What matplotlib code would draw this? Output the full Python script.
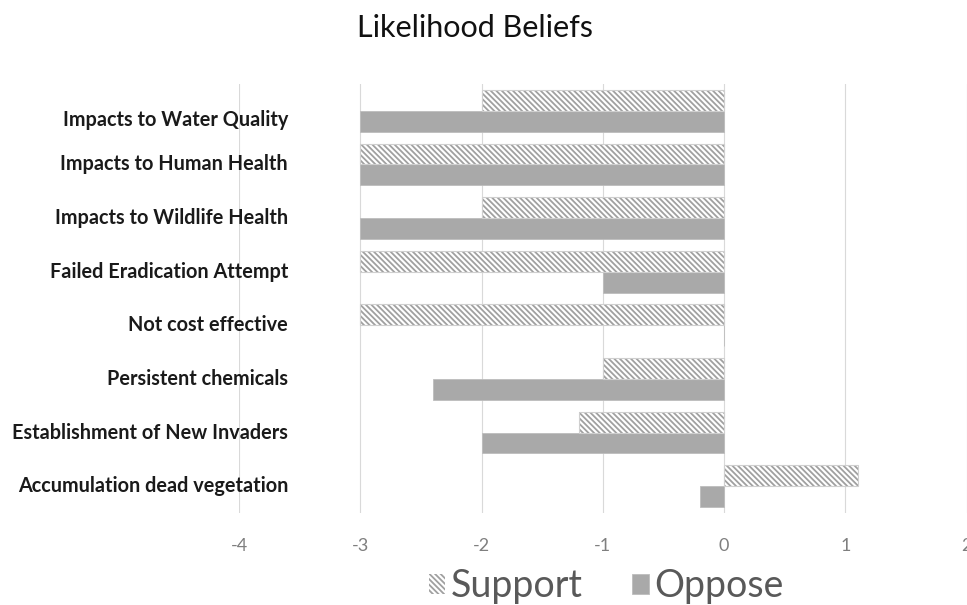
import numpy as np
import matplotlib.pyplot as plt
from matplotlib.transforms import blended_transform_factory

plt.rcParams['font.family'] = ['Lato', 'DejaVu Sans']
plt.rcParams['hatch.linewidth'] = 1.3

categories = [
    "Impacts to Water Quality",
    "Impacts to Human Health",
    "Impacts to Wildlife Health",
    "Failed Eradication Attempt",
    "Not cost effective",
    "Persistent chemicals",
    "Establishment of New Invaders",
    "Accumulation dead vegetation",
]
support = [-2, -3, -2, -3, -3, -1, -1.2, 1.1]
oppose = [-3, -3, -3, -1, 0, -2.4, -2, -0.2]
xticks = [-4, -3, -2, -1, 0, 1, 2]

W, H = 967, 605
fig = plt.figure(figsize=(W / 100, H / 100), dpi=100)
ax = fig.add_axes([239 / W, 1 - 513 / H, (966.7 - 239) / W, (513 - 84) / H])

y = np.arange(len(categories))
h = 0.39
hatch = '\\' * 6
grid_col = '#d9d9d9'

# Support: hatched bars, light outline drawn on top
ax.barh(y - h / 2, support, height=h, color='white', edgecolor='#a0a0a0',
        hatch=hatch, linewidth=0, zorder=2)
ax.barh(y - h / 2, support, height=h, fill=False, edgecolor='#cfcfcf',
        linewidth=0.8, zorder=3)
# Oppose: solid grey bars
ax.barh(y + h / 2, oppose, height=h, color='#a9a9a9', edgecolor='#bdbdbd',
        linewidth=0.6, zorder=2)

ax.set_xlim(-4, 2)
ax.set_ylim(len(categories) - 0.5, -0.5)
ax.set_xticks(xticks)
ax.set_xticklabels([str(t) for t in xticks], color='#7f7f7f', fontsize=13)
ax.tick_params(axis='x', length=0, pad=18)
ax.set_yticks([])
ax.grid(axis='x', color=grid_col, linewidth=0.8, zorder=0)
ax.set_axisbelow(True)
for s in ax.spines.values():
    s.set_visible(False)

# Category labels sit inside the plot area, right-aligned at a fixed x
tr = blended_transform_factory(fig.transFigure, ax.transData)
label_shift = [0.18, 0, 0, 0, 0, 0, 0, 0]
for yi, name, dy in zip(y, categories, label_shift):
    ax.text(288 / W, yi + dy, name, transform=tr, ha='right', va='center',
            fontsize=14.3, fontweight='bold', color='#1a1a1a')

fig.text(475 / W, 1 - 28 / H, "Likelihood Beliefs", ha='center', va='center',
         fontsize=22, color='#111111')

handles = [
    plt.Rectangle((0, 0), 1, 1, facecolor='white', edgecolor='#a0a0a0',
                  hatch=hatch, linewidth=0),
    plt.Rectangle((0, 0), 1, 1, facecolor='#a9a9a9', edgecolor='#bdbdbd',
                  linewidth=0.6),
]
fig.legend(handles, ["Support", "Oppose"], loc='center',
           bbox_to_anchor=(606 / W, 1 - 586 / H), ncol=2, frameon=False,
           fontsize=27, handlelength=0.45, handleheight=0.45,
           handletextpad=0.15, columnspacing=1.3, labelcolor='#595959')

fig.savefig('out.png', dpi=100)
